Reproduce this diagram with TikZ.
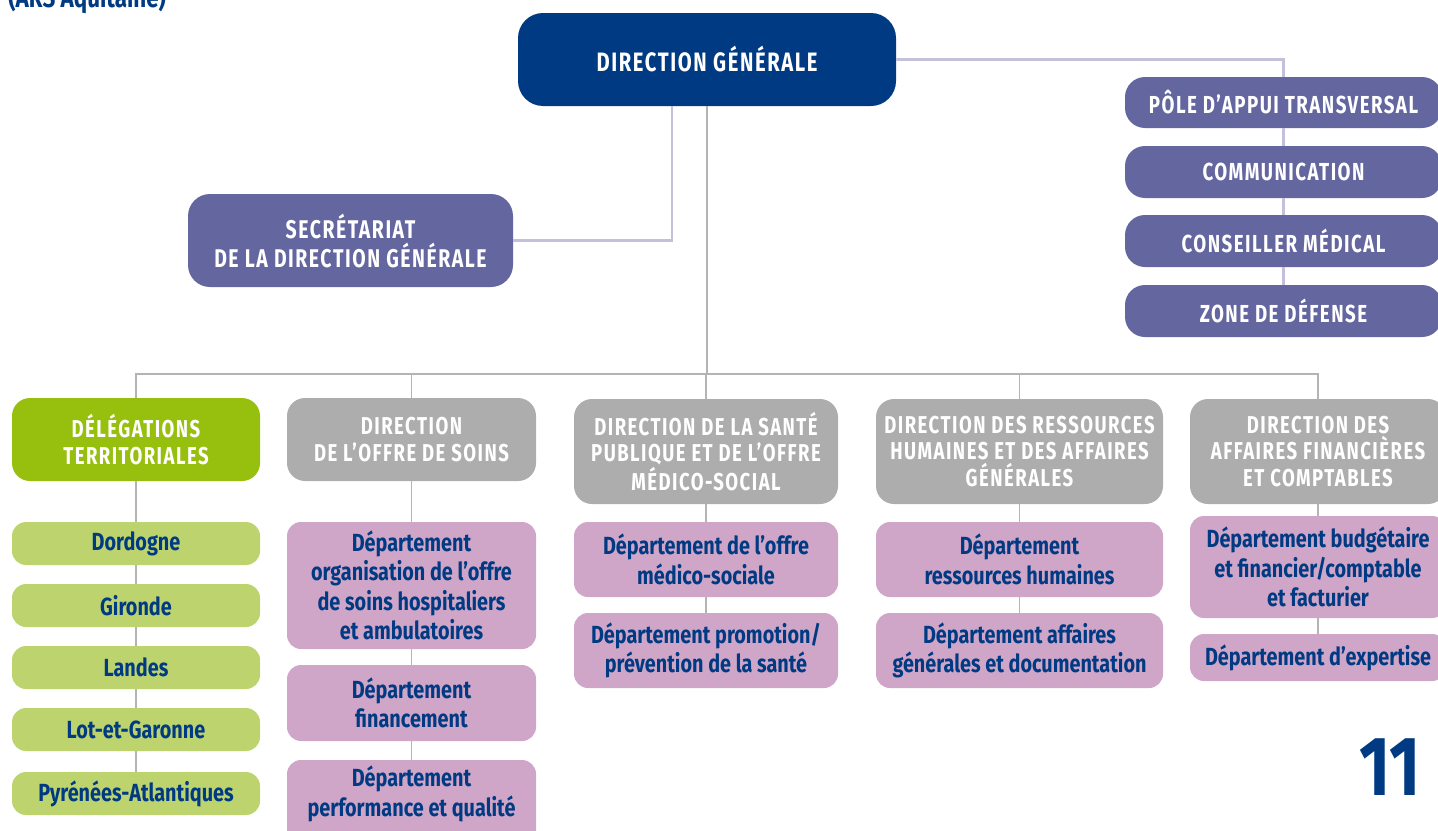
\documentclass[tikz,border=0pt]{standalone}
\usepackage{fontspec}
\setmainfont{Fira Sans}[FakeStretch=0.8]
\newfontfamily\hfont{Fira Sans}[FakeStretch=0.76, LetterSpace=6]
\definecolor{dblue}{RGB}{0,58,130}
\definecolor{pblue}{RGB}{100,102,160}
\definecolor{lav}{RGB}{196,192,220}
\definecolor{ghead}{RGB}{151,191,13}
\definecolor{gchild}{RGB}{189,212,110}
\definecolor{grhead}{RGB}{173,173,173}
\definecolor{pink}{RGB}{208,166,200}
\definecolor{gline}{RGB}{180,180,180}
\tikzset{
  sz/.style 2 args={minimum width=#1*0.5pt, minimum height=#2*0.5pt, inner sep=0pt, align=center},
  dgbox/.style={fill=dblue, text=white, rounded corners=12.5pt, font=\hfont\bfseries\fontsize{13.3}{15}\selectfont},
  secbox/.style={fill=pblue, text=white, rounded corners=11pt, font=\hfont\bfseries\fontsize{12.8}{14.5}\selectfont},
  polebox/.style={fill=pblue, text=white, rounded corners=10pt, font=\hfont\bfseries\fontsize{12.3}{13}\selectfont},
  headbox/.style={fill=grhead, text=white, rounded corners=9pt, font=\hfont\bfseries\fontsize{12.2}{13.3}\selectfont},
  greenhead/.style={headbox, fill=ghead},
  gbox/.style={fill=gchild, text=dblue, rounded corners=7pt, font=\bfseries\fontsize{12.4}{14.75}\selectfont},
  pbox/.style={fill=pink, text=dblue, rounded corners=7pt, font=\bfseries\fontsize{12.4}{14.75}\selectfont},
  lavline/.style={draw=lav, line width=1.1pt},
  grline/.style={draw=gline, line width=0.9pt},
}
\begin{document}
\begin{tikzpicture}[x=0.5pt, y=-0.5pt]
\useasboundingbox (0,0) rectangle (1438,830);
\clip (0,0) rectangle (1438,830);
% title (cut at top)
\node[anchor=base west, inner sep=0pt, text=dblue, font=\bfseries\fontsize{14}{15}\selectfont] (title) at (8,8) {(ARS Aquitaine)};
\coordinate (bus) at (706,374);
% top
\node[dgbox, sz={378}{93}] (dg) at (707,59.5) {DIRECTION GÉNÉRALE};
\node[secbox, sz={325}{93}] (sec) at (350.5,240.5) {SECRÉTARIAT\\DE LA DIRECTION GÉNÉRALE};
% pole
\node[polebox, sz={317}{51}] (pole) at (1283.5,102.5) {PÔLE D’APPUI TRANSVERSAL};
\node[polebox, sz={317}{52}] (comm) at (1283.5,172) {COMMUNICATION};
\node[polebox, sz={317}{52}] (cons) at (1283.5,241) {CONSEILLER MÉDICAL};
\node[polebox, sz={317}{52}] (zone) at (1283.5,311) {ZONE DE DÉFENSE};
% heads
\node[greenhead, sz={248}{83}] (h1) at (136,439.5) {DÉLÉGATIONS\\TERRITORIALES};
\node[headbox, sz={249}{83}] (h2) at (411.5,439.5) {DIRECTION\\DE L’OFFRE DE SOINS};
\node[headbox, sz={264}{105}] (h3) at (706,451.5) {DIRECTION DE LA SANTÉ\\PUBLIQUE ET DE L’OFFRE\\MÉDICO-SOCIAL};
\node[headbox, sz={287}{105}] (h4) at (1019.5,451.5) {DIRECTION DES RESSOURCES\\HUMAINES ET DES AFFAIRES\\GÉNÉRALES};
\node[headbox, sz={256}{105}] (h5) at (1318,451.5) {DIRECTION DES\\AFFAIRES FINANCIÈRES\\ET COMPTABLES};
% green children
\node[gbox, sz={248}{43}] (g1) at (136,543.5) {Dordogne};
\node[gbox, sz={248}{43}] (g2) at (136,605.5) {Gironde};
\node[gbox, sz={248}{43}] (g3) at (136,667.5) {Landes};
\node[gbox, sz={248}{43}] (g4) at (136,729.5) {Lot-et-Garonne};
\node[gbox, sz={248}{43}] (g5) at (136,793.5) {Pyrénées-Atlantiques};
% col 2
\node[pbox, sz={249}{127}] (c21) at (411.5,585.5) {Département\\organisation de l’offre\\de soins hospitaliers\\et ambulatoires};
\node[pbox, sz={249}{76}] (c22) at (411.5,703) {Département\\financement};
\node[pbox, sz={249}{90}] (c23) at (411.5,805) {\raisebox{0pt}[\height][\dimexpr\depth+9.5pt\relax]{\begin{tabular}{@{}c@{}}Département\\performance et qualité\end{tabular}}};
% col 3
\node[pbox, sz={264}{75}] (c31) at (706,559.5) {Département de l’offre\\médico-sociale};
\node[pbox, sz={264}{75}] (c32) at (706,650.5) {Département promotion/\\prévention de la santé};
% col 4
\node[pbox, sz={287}{75}] (c41) at (1019.5,559.5) {Département\\ressources humaines};
\node[pbox, sz={287}{75}] (c42) at (1019.5,650.5) {Département affaires\\générales et documentation};
% col 5
\node[pbox, sz={256}{102}] (c51) at (1318,567) {Département budgétaire\\et financier/comptable\\et facturier};
\node[pbox, sz={256}{47}] (c52) at (1318,657.5) {Département d’expertise};
% page number
\node[anchor=base east, inner sep=0pt, text=dblue, font=\bfseries\fontsize{42}{42}\selectfont] (num) at (1421,795) {11};
% connectors
\draw[lavline] (dg.east) -| (pole.north);
\draw[lavline] (pole) -- (comm) -- (cons) -- (zone);
\draw[lavline] (sec.east) -| ([xshift=-17.5pt]dg.south);
\draw[grline] (dg.south) -- (dg.south |- bus);
\draw[grline] (h1.north) -- (h1.north |- bus) -- (h5.north |- bus) -- (h5.north);
\draw[grline] (h2.north) -- (h2.north |- bus);
\draw[grline] (h3.north) -- (h3.north |- bus);
\draw[grline] (h4.north) -- (h4.north |- bus);
\draw[grline] (h1) -- (g1) -- (g2) -- (g3) -- (g4) -- (g5);
\draw[grline] (h2) -- (c21) -- (c22) -- (c23);
\draw[grline] (h3) -- (c31) -- (c32);
\draw[grline] (h4) -- (c41) -- (c42);
\draw[grline] (h5) -- (c51) -- (c52);
\end{tikzpicture}
\end{document}
